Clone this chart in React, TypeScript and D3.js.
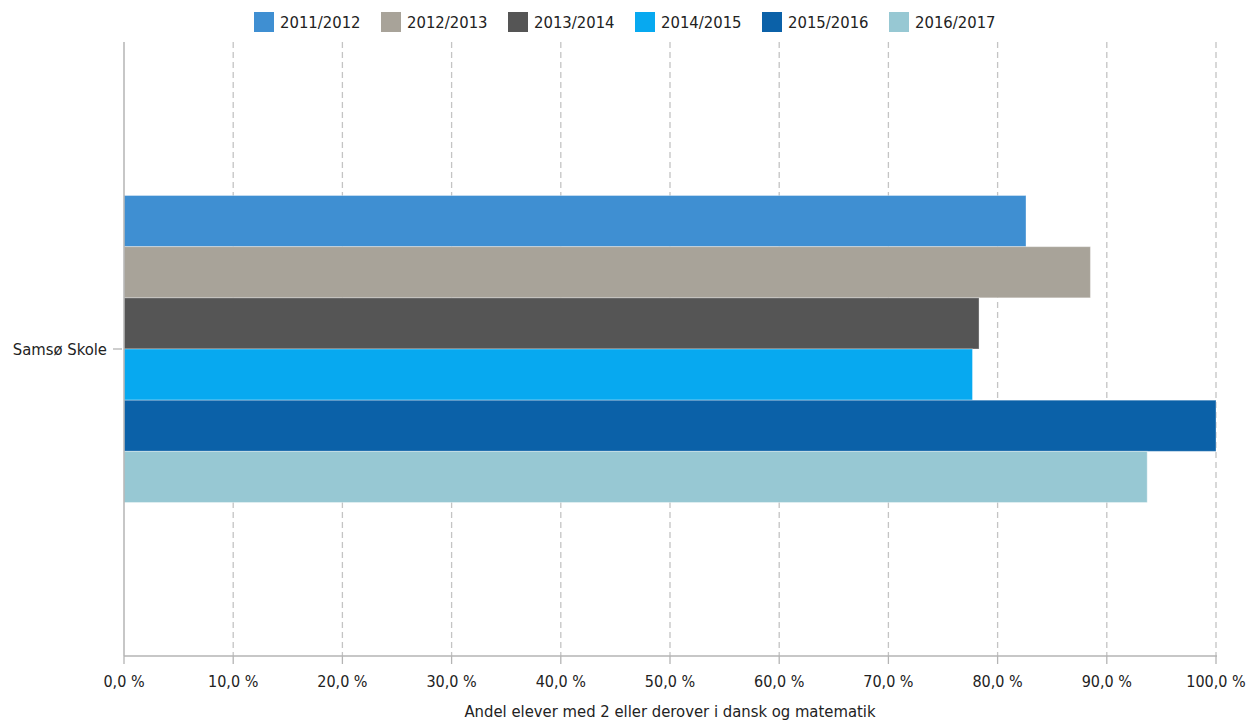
import React, { useEffect, useRef } from 'react';
import * as d3 from 'd3';

const schools = ['Samsø Skole'];
const seasons = ['2011/2012', '2012/2013', '2013/2014', '2014/2015', '2015/2016', '2016/2017'];
const shares = [0.826, 0.885, 0.783, 0.777, 1.0, 0.937];
const seasonColors = ['#3f8fd2', '#a8a399', '#555555', '#07a9f0', '#0b61a8', '#97c8d3'];
const xTicks = [0, 0.1, 0.2, 0.3, 0.4, 0.5, 0.6, 0.7, 0.8, 0.9, 1.0];
const xTitle = 'Andel elever med 2 eller derover i dansk og matematik';

const W = 1256;
const H = 722;
const FONT = '"DejaVu Sans Condensed", "DejaVu Sans", sans-serif';

const App: React.FC = () => {
  const svgRef = useRef<SVGSVGElement>(null);

  useEffect(() => {
    if (!svgRef.current) return;
    const svg = d3.select(svgRef.current);
    svg.selectAll('*').remove();

    const left = 124, right = 1216, top = 42, bottom = 656;

    const x = d3.scaleLinear().domain([0, 1]).range([left, right]);
    const y = d3.scaleBand().domain(schools).range([top, bottom]).paddingInner(0).paddingOuter(0.5);
    const ySeason = d3.scaleBand().domain(seasons).range([0, y.bandwidth()]);
    const color = d3.scaleOrdinal<string, string>().domain(seasons).range(seasonColors);
    const fmt = (v: number) => d3.format('.1f')(v * 100).replace('.', ',') + ' %';

    // dashed vertical grid
    svg.append('g')
      .selectAll('line')
      .data(xTicks.slice(1))
      .join('line')
      .attr('x1', d => x(d)).attr('x2', d => x(d))
      .attr('y1', top).attr('y2', bottom)
      .attr('stroke', '#c4c4c4')
      .attr('stroke-width', 1.3)
      .attr('stroke-dasharray', '6,4');

    // bars
    const rows = seasons.map((s, i) => ({ season: s, value: shares[i] }));
    svg.append('g')
      .selectAll('rect')
      .data(rows)
      .join('rect')
      .attr('x', x(0))
      .attr('y', d => (y(schools[0]) || 0) + (ySeason(d.season) || 0))
      .attr('width', d => x(d.value) - x(0))
      .attr('height', ySeason.bandwidth())
      .attr('fill', d => color(d.season))
      .attr('stroke', '#ffffff')
      .attr('stroke-opacity', 0.35)
      .attr('stroke-width', 1);

    // axes lines
    svg.append('line')
      .attr('x1', left).attr('x2', left)
      .attr('y1', top).attr('y2', bottom)
      .attr('stroke', '#b4b4b4').attr('stroke-width', 1.5);
    svg.append('line')
      .attr('x1', left).attr('x2', right + 1)
      .attr('y1', bottom).attr('y2', bottom)
      .attr('stroke', '#b4b4b4').attr('stroke-width', 1.5);

    // x ticks + labels
    const xt = svg.append('g');
    xt.selectAll('line')
      .data(xTicks)
      .join('line')
      .attr('x1', d => x(d)).attr('x2', d => x(d))
      .attr('y1', bottom).attr('y2', bottom + 8)
      .attr('stroke', '#b4b4b4').attr('stroke-width', 1.3);
    xt.selectAll('text')
      .data(xTicks)
      .join('text')
      .attr('x', d => x(d))
      .attr('y', 687)
      .attr('text-anchor', 'middle')
      .attr('font-family', FONT)
      .attr('font-size', 16)
      .attr('fill', '#222')
      .text(d => fmt(d));

    // y tick + label
    schools.forEach(s => {
      const cy = (y(s) || 0) + y.bandwidth() / 2;
      svg.append('line')
        .attr('x1', left - 11).attr('x2', left - 2)
        .attr('y1', cy).attr('y2', cy)
        .attr('stroke', '#b4b4b4').attr('stroke-width', 1.3);
      svg.append('text')
        .attr('x', 107).attr('y', cy)
        .attr('dy', '0.35em')
        .attr('text-anchor', 'end')
        .attr('font-family', FONT)
        .attr('font-size', 16.5)
        .attr('fill', '#222')
        .text(s);
    });

    // x axis title
    svg.append('text')
      .attr('x', (left + right) / 2)
      .attr('y', 717)
      .attr('text-anchor', 'middle')
      .attr('font-family', FONT)
      .attr('font-size', 16.5)
      .attr('fill', '#222')
      .text(xTitle);

    // legend
    const legend = svg.append('g')
      .selectAll('g')
      .data(seasons)
      .join('g')
      .attr('transform', (d, i) => `translate(${254 + i * 127},12)`);
    legend.append('rect')
      .attr('width', 20).attr('height', 20)
      .attr('fill', d => color(d));
    legend.append('text')
      .attr('x', 26).attr('y', 10)
      .attr('dy', '0.36em')
      .attr('font-family', FONT)
      .attr('font-size', 16.5)
      .attr('fill', '#222')
      .text(d => d);
  }, []);

  return (
    <svg
      ref={svgRef}
      width={W}
      height={H}
      style={{ position: 'absolute', left: 0, top: 0, background: '#fff' }}
    />
  );
};

export default App;
